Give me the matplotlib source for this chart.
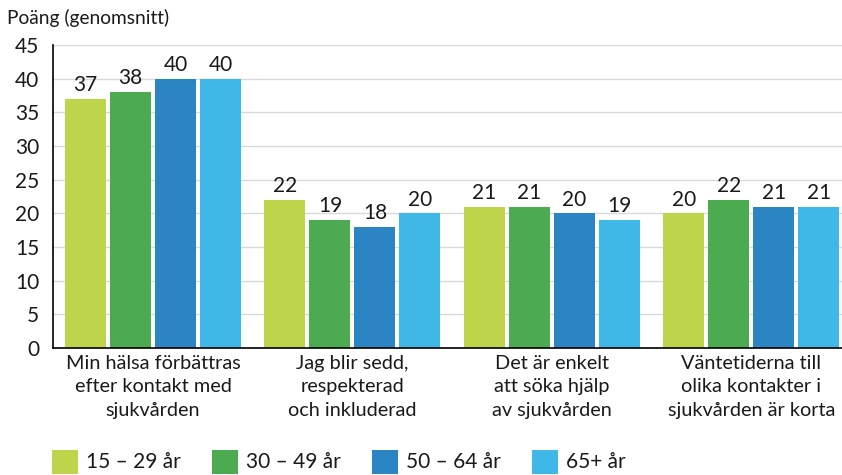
import matplotlib
matplotlib.use("Agg")
import matplotlib.pyplot as plt
import numpy as np
from matplotlib.patches import Rectangle

plt.rcParams['font.family'] = ['Lato', 'DejaVu Sans']

categories = ["Min hälsa förbättras\nefter kontakt med\nsjukvården",
              "Jag blir sedd,\nrespekterad\noch inkluderad",
              "Det är enkelt\natt söka hjälp\nav sjukvården",
              "Väntetiderna till\nolika kontakter i\nsjukvården är korta"]
series_names = ["15 – 29 år", "30 – 49 år", "50 – 64 år", "65+ år"]
values = {
    "15 – 29 år": [37, 22, 21, 20],
    "30 – 49 år": [38, 19, 21, 22],
    "50 – 64 år": [40, 18, 20, 21],
    "65+ år": [40, 20, 19, 21],
}
colors = ["#BDD44B", "#4CAA50", "#2B85C2", "#3FB8E8"]
yticks = [0, 5, 10, 15, 20, 25, 30, 35, 40, 45]

W, H = 842, 475
fig = plt.figure(figsize=(W/100, H/100), dpi=100)
ax = fig.add_axes([53/W, 1-348/H, (842-53)/W, (348-45)/H])

x = np.arange(len(categories))
pitch = 0.2256
width = 0.2055
for i, name in enumerate(series_names):
    pos = x + (i - 1.5) * pitch
    bars = ax.bar(pos, values[name], width=width, color=colors[i], zorder=3)
    for b, v in zip(bars, values[name]):
        ax.text(b.get_x() + b.get_width()/2, v + 0.55, str(v), ha='center', va='bottom',
                fontsize=15, color='#1a1a1a')

ax.set_xlim(-0.501, 3.454)
ax.set_ylim(0, 45)
ax.set_yticks(yticks)
ax.tick_params(axis='y', length=0, labelsize=15, pad=10, colors='#1a1a1a')
ax.set_xticks(x)
ax.set_xticklabels(categories, fontsize=14.3, color='#1a1a1a', linespacing=1.45)
ax.tick_params(axis='x', length=0, pad=5)
ax.grid(axis='y', color='#d9d9d9', linewidth=1, zorder=0)
for s in ['top', 'right']:
    ax.spines[s].set_visible(False)
ax.spines['left'].set_color('black')
ax.spines['bottom'].set_color('black')
ax.spines['left'].set_linewidth(1.2)
ax.spines['bottom'].set_linewidth(1.2)
ax.spines['bottom'].set_zorder(4)

fig.text(7/W, 1-18/H, "Poäng (genomsnitt)", fontsize=13.8, va='center', ha='left', color='#1a1a1a')

for i, (name, c) in enumerate(zip(series_names, colors)):
    x0 = 52 + 160 * i
    fig.patches.append(Rectangle((x0/W, 1-474/H), 26/W, 24/H, transform=fig.transFigure,
                                 facecolor=c, edgecolor='none'))
    fig.text((x0 + 34)/W, 1-462/H, name, fontsize=15, va='center', ha='left', color='#1a1a1a')

fig.savefig("out.png", dpi=100)
